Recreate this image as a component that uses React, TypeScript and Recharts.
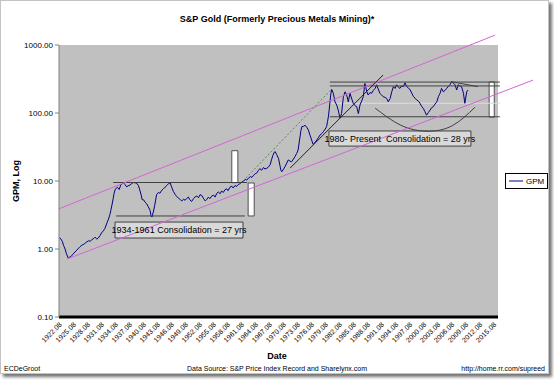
import { LineChart, Line, XAxis, YAxis, CartesianGrid, ReferenceLine, ReferenceArea } from "recharts";

const FONT = "Arial, 'Liberation Sans', Helvetica, sans-serif";

// GPM index (decimal year, index value)
const gpmDates = [
  1922.6, 1922.9, 1923.2, 1923.5, 1923.8, 1924.1, 1924.5, 1924.8, 1925.1, 1925.5, 1925.9,
  1926.3, 1926.7, 1927.0, 1927.4, 1927.8, 1928.1, 1928.5, 1928.8, 1929.2, 1929.5, 1929.9,
  1930.2, 1930.6, 1930.9, 1931.3, 1931.6, 1932.0, 1932.35, 1932.6, 1932.8, 1933.1, 1933.4,
  1933.6, 1933.8, 1934.1, 1934.3, 1934.5, 1934.8, 1935.0, 1935.4, 1935.7, 1936.0, 1936.3,
  1936.6, 1937.0, 1937.3, 1937.7, 1938.0, 1938.4, 1938.8, 1939.1, 1939.5, 1939.8,
  1940.1, 1940.3, 1940.6, 1940.9, 1941.3, 1941.6, 1942.0, 1942.2, 1942.4, 1942.7,
  1943.0, 1943.4, 1943.8, 1944.1, 1944.5, 1944.8, 1945.2, 1945.6, 1946.0, 1946.3,
  1946.6, 1947.0, 1947.4, 1947.7, 1948.1, 1948.5, 1948.8, 1949.2, 1949.5, 1949.8,
  1950.2, 1950.5, 1950.9, 1951.3, 1951.6, 1952.0, 1952.4, 1952.7, 1953.1, 1953.4,
  1953.8, 1954.1, 1954.5, 1954.8, 1955.2, 1955.6, 1955.9, 1956.3, 1956.6, 1957.0,
  1957.3, 1957.7, 1958.0, 1958.4, 1958.7, 1959.1, 1959.5, 1959.8,
  1960.2, 1960.5, 1960.9, 1961.2, 1961.6, 1962.0, 1962.4, 1962.7, 1963.1, 1963.5,
  1963.8, 1964.2, 1964.5, 1964.8, 1965.2, 1965.5, 1965.9, 1966.3, 1966.6, 1967.0,
  1967.3, 1967.7, 1968.0, 1968.3, 1968.6, 1968.8, 1969.1, 1969.5, 1969.8,
  1970.0, 1970.2, 1970.6, 1970.9, 1971.3, 1971.6, 1972.0, 1972.3, 1972.7, 1973.0,
  1973.4, 1973.7, 1974.0, 1974.3, 1974.5, 1974.9, 1975.2, 1975.6, 1975.9, 1976.3,
  1976.6, 1976.9, 1977.2, 1977.7, 1978.0, 1978.4, 1978.8, 1979.1, 1979.5, 1979.8,
  1980.0, 1980.2, 1980.5, 1980.7, 1980.9, 1981.24, 1981.6, 1981.96, 1982.3, 1982.67,
  1983.0, 1983.4, 1983.76, 1984.1, 1984.45, 1984.8, 1985.2, 1985.5, 1985.9, 1986.25,
  1986.6, 1986.95, 1987.3, 1987.66, 1988.0, 1988.4, 1988.7, 1989.1, 1989.45, 1989.8,
  1990.2, 1990.5, 1990.85, 1991.2, 1991.55, 1991.9, 1992.3, 1992.7, 1993.0, 1993.4,
  1993.75, 1994.1, 1994.45, 1994.8, 1995.15, 1995.5, 1995.85, 1996.2, 1996.6, 1996.95,
  1997.3, 1997.7, 1998.05, 1998.4, 1998.75, 1999.1, 1999.45, 1999.8,
  2000.15, 2000.5, 2000.85, 2001.2, 2001.6, 2001.95, 2002.3, 2002.65, 2003.0, 2003.4,
  2003.75, 2004.1, 2004.4, 2004.8, 2005.15, 2005.5, 2005.85, 2006.2, 2006.6, 2006.95,
  2007.3, 2007.65, 2008.0, 2008.35, 2008.7, 2009.1, 2009.4, 2009.8, 2010.1,
];
const gpmValues = [
  1.48, 1.4, 1.3, 1.12, 1.0, 0.85, 0.73, 0.76, 0.78, 0.84, 0.9,
  0.96, 1.03, 1.08, 1.14, 1.17, 1.22, 1.28, 1.32, 1.3, 1.37, 1.42,
  1.49, 1.4, 1.45, 1.58, 1.72, 1.85, 2.02, 2.25, 2.45, 2.75, 3.2,
  3.7, 4.3, 5.5, 6.6, 7.4, 7.9, 8.1, 7.5, 8.7, 9.0, 9.5,
  8.9, 8.2, 8.5, 8.7, 9.1, 9.5, 9.4, 9.3, 8.6, 7.4,
  6.2, 5.3, 5.3, 4.9, 4.6, 4.2, 3.7, 3.1, 2.95, 3.5,
  4.4, 6.3, 6.8, 6.6, 7.3, 7.6, 8.1, 8.6, 9.2, 9.4,
  8.2, 7.0, 6.3, 5.9, 5.6, 5.3, 5.1, 5.4, 5.2, 5.5,
  5.8, 5.3, 5.0, 5.5, 5.8, 6.0, 5.7, 6.3, 6.1, 5.6,
  5.1, 5.3, 5.8, 5.5, 6.0, 6.2, 5.8, 6.6, 6.9, 6.5,
  7.1, 6.8, 7.4, 7.7, 7.2, 8.1, 8.4, 7.9,
  8.6, 8.3, 8.9, 9.1, 9.6, 9.9, 10.6, 10.3, 11.1, 11.6,
  11.3, 12.2, 12.8, 13.0, 14.3, 15.2, 14.4, 15.8, 15.0, 15.4,
  15.9, 17.3, 20.4, 23.8, 26.5, 27.0, 24.5, 21.5, 17.0,
  14.5, 13.7, 15.0, 16.3, 18.5, 20.4, 19.5, 19.2, 21.0, 22.7,
  25.5, 28.5, 40, 55, 63, 64, 66, 61, 56, 46,
  40, 34.5, 36, 40, 43, 47.5, 50, 53, 58, 63,
  75, 90, 140, 190, 222, 195, 146, 131, 110, 84,
  98, 174, 205, 184, 146, 195, 160, 139, 128, 124,
  98, 131, 150, 174, 272, 205, 184, 200, 195, 215,
  230, 260, 225, 195, 185, 174, 170, 163, 146, 163,
  205, 244, 230, 260, 240, 230, 250, 244, 278, 244,
  235, 218, 195, 174, 165, 155, 150, 139,
  125, 117, 105, 93, 102, 110, 120, 124, 135, 146,
  175, 195, 230, 205, 215, 230, 245, 260, 290, 275,
  260, 218, 260, 250, 244, 195, 139, 205, 218,
];

const dateLabels = [
  "1922.08", "1925.08", "1928.08", "1931.08", "1934.08", "1937.08", "1940.08", "1943.08",
  "1946.08", "1949.08", "1952.08", "1955.08", "1958.08", "1961.08", "1964.08", "1967.08",
  "1970.08", "1973.08", "1976.08", "1979.08", "1982.08", "1985.08", "1988.08", "1991.08",
  "1994.08", "1997.08", "2000.08", "2003.08", "2006.08", "2009.08", "2012.08", "2015.08",
];
const logTicks = [0.1, 1, 10, 100, 1000];

// hand-drawn overlays, in (year, GPM) units
const upperChannel = [{ t: 1922.5, v: 3.9 }, { t: 2015.9, v: 1400 }];
const lowerChannel = [{ t: 1924.2, v: 0.71 }, { t: 2024.0, v: 305 }];
const blowOffLine = [{ t: 1961.9, v: 10 }, { t: 1980.7, v: 218 }];
const supportLine = [{ t: 1972.0, v: 15.5 }, { t: 1991.9, v: 362 }];
const topFade = [{ t: 2006.6, v: 288 }, { t: 2012.2, v: 244 }];
const basinArc = [
  { t: 1990.2, v: 118 }, { t: 1995.7, v: 66 }, { t: 2001.3, v: 54 },
  { t: 2006.7, v: 65 }, { t: 2011.6, v: 122 },
];
const rangeLines = [
  { x1: 1934.1, x2: 1962.8, v: 9.5 },
  { x1: 1934.7, x2: 1962.3, v: 3.06 },
  { x1: 1980.5, x2: 2016.9, v: 285 },
  { x1: 1980.5, x2: 2016.9, v: 250 },
  { x1: 1980.5, x2: 2016.9, v: 88 },
];
const midLine = { x1: 1980.5, x2: 2016.9, v: 139 };
const measureBars = [
  { x1: 1959.5, x2: 1960.8, y1: 9.45, y2: 27.9 },
  { x1: 1963.0, x2: 1964.3, y1: 3.06, y2: 9.35 },
  { x1: 2014.6, x2: 2015.7, y1: 87, y2: 286 },
];
const noteBoxes = [
  { x1: 1934.5, x2: 1961.9, y1: 1.45, y2: 2.49, text: "1934-1961 Consolidation = 27 yrs" },
  { x1: 1980.3, x2: 2010.7, y1: 32.6, y2: 54.4, text: "1980- Present\u00a0\u00a0Consolidation = 28 yrs" },
];

const gpmData = gpmDates.map((t, i) => ({ t, gpm: gpmValues[i] }));
const tickYears = dateLabels.map((l) => parseInt(l, 10) + 7 / 12);

const PINK = "#d366d3";

function DateTick({ x, y, payload }: any) {
  const label = `${Math.floor(payload.value + 0.01)}.08`;
  const tx = x + 3;
  const ty = y + 5;
  return (
    <text x={tx} y={ty} transform={`rotate(-45 ${tx} ${ty})`} textAnchor="end" fontSize={7} fill="#000">
      {label}
    </text>
  );
}

export default function App() {
  return (
    <div style={{ position: "relative", width: 554, height: 380, fontFamily: FONT, background: "#fff" }}>
      <style>{"body{margin:0}"}</style>
      <div
        style={{
          position: "absolute", left: 0, top: 0, width: 547, height: 372,
          border: "1px solid #c4c4c4", boxShadow: "3px 3px 3px rgba(0,0,0,0.55)", background: "#fff",
        }}
      />
      <div style={{ position: "absolute", left: 0, top: 0 }}>
        <LineChart width={554} height={380} margin={{ top: 45, right: 56, bottom: 28, left: 9 }}>
          <CartesianGrid fill="#c0c0c0" stroke="none" horizontal={false} vertical={false} />
          <XAxis
            type="number"
            dataKey="t"
            domain={[1922.5, 2016.5]}
            allowDataOverflow
            ticks={tickYears}
            interval={0}
            height={35}
            tickSize={0}
            tickMargin={3}
            tickLine={false}
            axisLine={{ stroke: "#000", strokeWidth: 3 }}
            tick={<DateTick />}
          />
          <YAxis
            scale="log"
            domain={[0.1, 1000]}
            allowDataOverflow
            ticks={logTicks}
            width={50}
            tickSize={4}
            tickMargin={2}
            tickFormatter={(v: number) => v.toFixed(2)}
            tick={{ fontSize: 8, fill: "#000" }}
            axisLine={{ stroke: "#808080" }}
            tickLine={{ stroke: "#808080" }}
          />
          <ReferenceLine
            segment={[{ x: midLine.x1, y: midLine.v }, { x: midLine.x2, y: midLine.v }]}
            stroke="#dedede"
            ifOverflow="visible"
          />
          <Line
            data={gpmData}
            dataKey="gpm"
            name="GPM"
            stroke="#000080"
            strokeWidth={1}
            dot={false}
            type="linear"
            isAnimationActive={false}
          />
          <Line
            data={basinArc}
            dataKey="v"
            stroke="#404040"
            strokeWidth={1}
            dot={false}
            type="natural"
            legendType="none"
            isAnimationActive={false}
          />
          {rangeLines.map((r, i) => (
            <ReferenceLine
              key={`r${i}`}
              segment={[{ x: r.x1, y: r.v }, { x: r.x2, y: r.v }]}
              stroke="#404040"
              ifOverflow="visible"
            />
          ))}
          <ReferenceLine
            segment={[{ x: upperChannel[0].t, y: upperChannel[0].v }, { x: upperChannel[1].t, y: upperChannel[1].v }]}
            stroke={PINK}
            ifOverflow="visible"
          />
          <ReferenceLine
            segment={[{ x: lowerChannel[0].t, y: lowerChannel[0].v }, { x: lowerChannel[1].t, y: lowerChannel[1].v }]}
            stroke={PINK}
            ifOverflow="visible"
          />
          <ReferenceLine
            segment={[{ x: blowOffLine[0].t, y: blowOffLine[0].v }, { x: blowOffLine[1].t, y: blowOffLine[1].v }]}
            stroke="#4f8f4f"
            strokeDasharray="2 2"
            ifOverflow="visible"
          />
          <ReferenceLine
            segment={[{ x: supportLine[0].t, y: supportLine[0].v }, { x: supportLine[1].t, y: supportLine[1].v }]}
            stroke="#202020"
            ifOverflow="visible"
          />
          <ReferenceLine
            segment={[{ x: topFade[0].t, y: topFade[0].v }, { x: topFade[1].t, y: topFade[1].v }]}
            stroke="#404040"
            ifOverflow="visible"
          />
          {measureBars.map((b, i) => (
            <ReferenceArea
              key={`b${i}`}
              x1={b.x1}
              x2={b.x2}
              y1={b.y1}
              y2={b.y2}
              fill="#ffffff"
              fillOpacity={1}
              stroke="#505050"
              ifOverflow="visible"
            />
          ))}
          {noteBoxes.map((n, i) => (
            <ReferenceArea
              key={`n${i}`}
              x1={n.x1}
              x2={n.x2}
              y1={n.y1}
              y2={n.y2}
              fill="#d9d9d9"
              fillOpacity={1}
              stroke="#404040"
              ifOverflow="visible"
              label={{ value: n.text, position: "center", fontSize: 9, fill: "#000" }}
            />
          ))}
        </LineChart>
      </div>
      <div style={{ position: "absolute", left: 0, top: 13, width: 554, textAlign: "center", fontSize: 9, fontWeight: "bold", lineHeight: "12px" }}>
        S&amp;P Gold (Formerly Precious Metals Mining)*
      </div>
      <div
        style={{
          position: "absolute", left: 16, top: 181, fontSize: 9, fontWeight: "bold", lineHeight: "10px",
          whiteSpace: "nowrap", transform: "translate(-50%, -50%) rotate(-90deg)",
        }}
      >
        GPM, Log
      </div>
      <div style={{ position: "absolute", left: 0, top: 351, width: 554, textAlign: "center", fontSize: 9, fontWeight: "bold", lineHeight: "11px" }}>
        Date
      </div>
      <div style={{ position: "absolute", left: 0, top: 364, width: 554, textAlign: "center", fontSize: 7, lineHeight: "9px" }}>
        Data Source: S&amp;P Price Index Record and Sharelynx.com
      </div>
      <div style={{ position: "absolute", left: 4, top: 364, fontSize: 7, lineHeight: "9px" }}>ECDeGroot</div>
      <div style={{ position: "absolute", right: 9, top: 364, fontSize: 7, lineHeight: "9px" }}>http://home.rr.com/supreed</div>
      <div
        style={{
          position: "absolute", left: 505, top: 173, width: 41, height: 14, border: "1px solid #000",
          background: "#fff", display: "flex", alignItems: "center", fontSize: 8,
        }}
      >
        <svg width={20} height={14}>
          <line x1={3} y1={7} x2={17} y2={7} stroke="#000080" strokeWidth={1} />
        </svg>
        <span>GPM</span>
      </div>
    </div>
  );
}
